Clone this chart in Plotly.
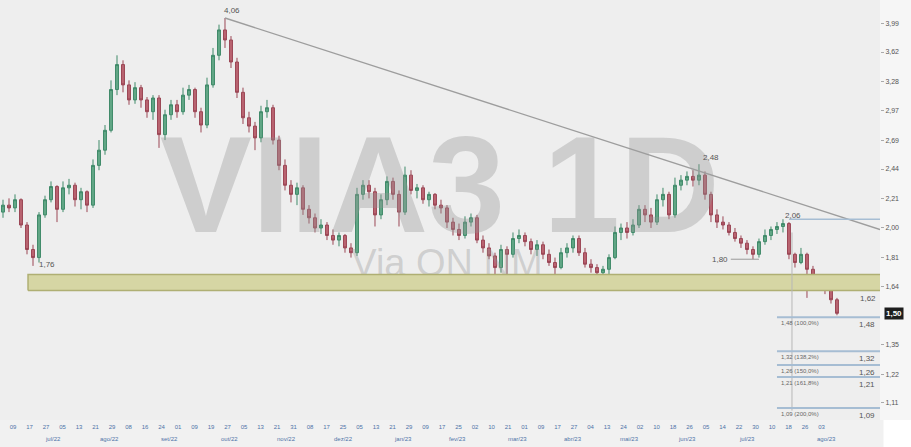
import math
import plotly.graph_objects as go

# ---------------- data ----------------
OPEN = [2.11, 2.16, 2.14, 2.20, 2.02, 1.86, 1.81, 2.09, 2.20, 2.30,
        2.13, 2.29, 2.31, 2.20, 2.26, 2.16, 2.47, 2.60, 2.78, 3.19,
        3.47, 3.24, 3.08, 3.21, 3.08, 2.96, 3.10, 2.74, 2.93, 3.03,
        2.96, 3.13, 3.19, 2.96, 2.83, 3.24, 3.58, 3.90, 3.77, 3.50,
        3.16, 2.90, 2.82, 2.71, 2.96, 3.00, 2.69, 2.47, 2.31, 2.24,
        2.29, 2.13, 2.07, 2.00, 2.02, 1.95, 1.92, 1.95, 1.87, 1.84,
        2.24, 2.31, 2.26, 2.09, 2.20, 2.34, 2.24, 2.11, 2.39, 2.27,
        2.29, 2.20, 2.24, 2.16, 2.14, 2.04, 1.99, 1.95, 2.04, 2.07,
        1.92, 1.87, 1.82, 1.75, 1.86, 1.83, 1.93, 1.95, 1.91, 1.86,
        1.89, 1.83, 1.78, 1.75, 1.84, 1.87, 1.93, 1.84, 1.77, 1.75,
        1.72, 1.74, 1.81, 1.97, 2.00, 1.97, 2.02, 2.13, 2.09, 2.04,
        2.20, 2.24, 2.09, 2.31, 2.35, 2.38, 2.35, 2.39, 2.24, 2.09,
        2.04, 2.02, 1.97, 1.93, 1.90, 1.86, 1.83, 1.91, 1.95, 1.99,
        2.01, 2.03, 1.83, 1.78, 1.83, 1.74, 1.69, 1.65, 1.62, 1.57]
HIGH = [2.20, 2.21, 2.24, 2.21, 2.04, 1.89, 2.11, 2.23, 2.34, 2.31,
        2.34, 2.36, 2.33, 2.29, 2.27, 2.52, 2.69, 2.83, 3.29, 3.58,
        3.52, 3.29, 3.27, 3.24, 3.11, 3.13, 3.13, 2.98, 3.08, 3.08,
        3.21, 3.24, 3.21, 3.00, 3.32, 3.67, 3.97, 4.06, 3.82, 3.55,
        3.21, 2.96, 2.86, 3.02, 3.08, 3.03, 2.73, 2.52, 2.35, 2.33,
        2.31, 2.16, 2.10, 2.06, 2.04, 1.99, 1.97, 1.96, 1.90, 2.29,
        2.35, 2.35, 2.29, 2.24, 2.38, 2.37, 2.27, 2.46, 2.43, 2.32,
        2.31, 2.26, 2.25, 2.20, 2.16, 2.07, 2.03, 2.08, 2.10, 2.09,
        1.95, 1.90, 1.84, 1.89, 1.88, 1.97, 1.99, 1.97, 1.93, 1.92,
        1.91, 1.86, 1.81, 1.87, 1.90, 1.95, 1.95, 1.87, 1.80, 1.77,
        1.76, 1.83, 2.01, 2.03, 2.04, 2.06, 2.16, 2.16, 2.14, 2.24,
        2.29, 2.26, 2.37, 2.39, 2.42, 2.43, 2.48, 2.42, 2.26, 2.13,
        2.08, 2.04, 2.00, 1.95, 1.92, 1.88, 1.93, 1.99, 2.01, 2.04,
        2.06, 2.04, 1.84, 1.87, 1.84, 1.76, 1.71, 1.68, 1.64, 1.58]
LOW = [2.07, 2.11, 2.11, 2.00, 1.83, 1.76, 1.78, 2.07, 2.18, 2.04,
       2.11, 2.24, 2.15, 2.13, 2.11, 2.14, 2.43, 2.56, 2.76, 3.13,
       3.16, 3.03, 3.04, 3.00, 2.90, 2.88, 2.62, 2.69, 2.88, 2.90,
       2.93, 3.08, 2.90, 2.76, 2.80, 3.21, 3.52, 3.67, 3.43, 3.10,
       2.84, 2.76, 2.60, 2.67, 2.90, 2.65, 2.43, 2.27, 2.18, 2.16,
       2.09, 2.03, 1.97, 1.96, 1.92, 1.89, 1.88, 1.84, 1.81, 1.82,
       2.20, 2.21, 2.01, 2.06, 2.16, 2.20, 2.01, 2.09, 2.24, 2.21,
       2.17, 2.15, 2.13, 2.10, 2.00, 1.95, 1.92, 1.93, 2.01, 1.90,
       1.84, 1.80, 1.70, 1.72, 1.66, 1.81, 1.90, 1.88, 1.83, 1.82,
       1.80, 1.76, 1.64, 1.74, 1.81, 1.84, 1.82, 1.75, 1.72, 1.70,
       1.69, 1.71, 1.80, 1.92, 1.93, 1.95, 2.00, 2.04, 2.00, 2.02,
       2.15, 2.06, 2.07, 2.27, 2.31, 2.30, 2.31, 2.20, 2.04, 2.00,
       1.99, 1.95, 1.91, 1.87, 1.83, 1.80, 1.81, 1.89, 1.92, 1.96,
       1.97, 1.80, 1.75, 1.77, 1.58, 1.66, 1.62, 1.60, 1.55, 1.49]
CLOSE = [2.16, 2.14, 2.20, 2.02, 1.86, 1.81, 2.09, 2.20, 2.30, 2.13,
         2.29, 2.31, 2.20, 2.26, 2.16, 2.47, 2.60, 2.78, 3.19, 3.47,
         3.24, 3.08, 3.21, 3.08, 2.96, 3.10, 2.74, 2.93, 3.03, 2.96,
         3.13, 3.19, 2.96, 2.83, 3.24, 3.58, 3.90, 3.77, 3.50, 3.16,
         2.90, 2.82, 2.71, 2.96, 3.00, 2.69, 2.47, 2.31, 2.24, 2.29,
         2.13, 2.07, 2.00, 2.02, 1.95, 1.92, 1.95, 1.87, 1.84, 2.24,
         2.31, 2.26, 2.09, 2.20, 2.34, 2.24, 2.11, 2.39, 2.27, 2.29,
         2.20, 2.24, 2.16, 2.14, 2.04, 1.99, 1.95, 2.04, 2.07, 1.92,
         1.87, 1.82, 1.75, 1.86, 1.83, 1.93, 1.95, 1.91, 1.86, 1.89,
         1.83, 1.78, 1.75, 1.84, 1.87, 1.93, 1.84, 1.77, 1.75, 1.72,
         1.74, 1.81, 1.97, 2.00, 1.97, 2.02, 2.13, 2.09, 2.04, 2.20,
         2.24, 2.09, 2.31, 2.35, 2.38, 2.35, 2.39, 2.24, 2.09, 2.04,
         2.02, 1.97, 1.93, 1.90, 1.86, 1.83, 1.91, 1.95, 1.99, 2.01,
         2.03, 1.83, 1.78, 1.83, 1.74, 1.69, 1.65, 1.62, 1.57, 1.50]

# swing labels: candle index, price
SWING_IDX = [37, 5, 116, 130, 125]
SWING_PRICE = [4.06, 1.76, 2.48, 2.06, 1.80]

# support zone and trend line
ZONE_LOW, ZONE_HIGH = 1.62, 1.71
TREND_START_IDX, TREND_START = 37, 4.06
TREND_END = 1.99

# Fibonacci projection levels
FIB_LEVELS = [1.48, 1.32, 1.26, 1.21, 1.09]
FIB_PCT = ["100,0%", "138,2%", "150,0%", "161,8%", "200,0%"]
FIB_TOP = 1.97

LAST_PRICE = 1.50

Y_TICKS = [3.99, 3.62, 3.28, 2.97, 2.69, 2.44, 2.21, 2.00, 1.81, 1.64, 1.35, 1.22, 1.11]

DAY_LABELS = ["09", "17", "27", "05", "13", "21", "29", "08", "16", "24",
              "01", "09", "19", "27", "05", "13", "21", "31", "08", "17",
              "25", "05", "13", "21", "29", "09", "17", "25", "02", "10",
              "21", "01", "09", "17", "27", "04", "13", "24", "02", "10",
              "18", "26", "05", "14", "22", "30", "10", "18", "26", "03"]
MONTH_LABELS = ["jul/22", "ago/22", "set/22", "out/22", "nov/22", "dez/22", "jan/23",
                "fev/23", "mar/23", "abr/23", "mai/23", "jun/23", "jul/23", "ago/23"]
MONTH_POS = [8.3, 17.8, 27.8, 37.8, 47.3, 56.7, 66.7, 75.7, 85.8, 95.0, 104.5, 114.0, 124.0, 137.3]


def fmt(v):
    return f"{v:.2f}".replace(".", ",")


X = list(range(len(CLOSE)))
X_MAX = 146.17
FONT = "Liberation Sans, Arial, sans-serif"

fig = go.Figure()

# watermark (drawn first so it stays behind)
fig.add_trace(go.Scatter(x=[72.8], y=[2.22], mode="text", text=["VIIA3 1D"],
                         textposition="middle center",
                         textfont=dict(size=138, color="rgba(150,150,150,0.36)", family=FONT, weight="bold"),
                         hoverinfo="skip"))
fig.add_trace(go.Scatter(x=[74], y=[1.755], mode="text", text=["Via ON NM"],
                         textposition="middle center",
                         textfont=dict(size=38, color="rgba(150,150,150,0.36)", family=FONT),
                         hoverinfo="skip"))

# support zone
fig.add_trace(go.Scatter(x=[4.17, X_MAX + 0.4, X_MAX + 0.4, 4.17, 4.17],
                         y=[ZONE_LOW, ZONE_LOW, ZONE_HIGH, ZONE_HIGH, ZONE_LOW],
                         mode="lines", fill="toself", fillcolor="rgb(214,214,164)",
                         line=dict(color="rgb(175,175,115)", width=1.5), hoverinfo="skip"))

# trend line
fig.add_trace(go.Scatter(x=[TREND_START_IDX, X_MAX], y=[TREND_START, TREND_END], mode="lines",
                         line=dict(color="#9d9d9d", width=1.4), hoverinfo="skip"))

# fib vertical guide
fig.add_trace(go.Scatter(x=[131.5, 131.5], y=[FIB_TOP, FIB_LEVELS[-1] - 0.01], mode="lines",
                         line=dict(color="#b8b8b8", width=1), hoverinfo="skip"))

# fib horizontal levels
for lv in FIB_LEVELS:
    fig.add_trace(go.Scatter(x=[129, X_MAX], y=[lv, lv], mode="lines",
                             line=dict(color="#a6bdd3", width=2), hoverinfo="skip"))

# swing helper lines
fig.add_trace(go.Scatter(x=[131, X_MAX], y=[SWING_PRICE[3], SWING_PRICE[3]], mode="lines",
                         line=dict(color="#a6bdd3", width=1.5), hoverinfo="skip"))
fig.add_trace(go.Scatter(x=[121.3, 126], y=[SWING_PRICE[4], SWING_PRICE[4]], mode="lines",
                         line=dict(color="#9a9a9a", width=1), hoverinfo="skip"))

# candles
fig.add_trace(go.Candlestick(x=X, open=OPEN, high=HIGH, low=LOW, close=CLOSE,
                             increasing=dict(line=dict(color="#3f8a69", width=1), fillcolor="#62a786"),
                             decreasing=dict(line=dict(color="#9b4655", width=1), fillcolor="#b96471"),
                             whiskerwidth=0, hoverinfo="skip"))


def ann(xv, price, text, **kw):
    d = dict(x=xv, y=math.log10(price), xref="x", yref="y", text=text, showarrow=False,
             font=dict(size=8, color="#555555", family=FONT))
    d.update(kw)
    fig.add_annotation(**d)


# swing labels
ann(SWING_IDX[0], SWING_PRICE[0], fmt(SWING_PRICE[0]), xanchor="left", yanchor="bottom", xshift=-3, yshift=1)
ann(SWING_IDX[1], SWING_PRICE[1], fmt(SWING_PRICE[1]), xanchor="left", yanchor="middle", xshift=4, yshift=1)
ann(SWING_IDX[2], SWING_PRICE[2], fmt(SWING_PRICE[2]), xanchor="left", yanchor="bottom", xshift=2, yshift=0)
ann(SWING_IDX[3], SWING_PRICE[3], fmt(SWING_PRICE[3]), xanchor="left", yanchor="bottom", xshift=0, yshift=-3)
ann(121.3, SWING_PRICE[4], fmt(SWING_PRICE[4]), xanchor="right", yanchor="middle", xshift=-1)
ann(X_MAX, ZONE_LOW, fmt(ZONE_LOW), xanchor="right", yanchor="top", xshift=-2, yshift=-2)

for lv, pct in zip(FIB_LEVELS, FIB_PCT):
    ann(129.3, lv, f"{fmt(lv)} ({pct})", xanchor="left", yanchor="top", yshift=-1,
        font=dict(size=6, color="#666666", family=FONT))
    ann(X_MAX, lv, fmt(lv), xanchor="right", yanchor="top", xshift=-3, yshift=-1,
        font=dict(size=8, color="#555555", family=FONT))

# last price box
fig.add_annotation(x=1.0, xref="paper", y=math.log10(LAST_PRICE), yref="y", text="<b>" + fmt(LAST_PRICE) + "</b>",
                   showarrow=False, xanchor="left", yanchor="middle", xshift=4,
                   bgcolor="#1e1e1e", font=dict(size=8, color="white", family=FONT), borderpad=1)

# month labels
for pos, lab in zip(MONTH_POS, MONTH_LABELS):
    fig.add_annotation(x=pos, xref="x", y=-0.045, yref="paper", text=lab, showarrow=False,
                       font=dict(size=6, color="#4f73a8", family=FONT), xanchor="center", yanchor="middle")

tick_pos = [1.67 + 2.75 * k for k in range(len(DAY_LABELS))]

# right strip and corner
fig.add_shape(type="rect", xref="paper", yref="paper", x0=1.0, x1=1.04, y0=0, y1=1,
              fillcolor="#f6f6f6", line=dict(width=0), layer="below")
fig.add_shape(type="rect", xref="paper", yref="paper", x0=1.004, x1=1.04, y0=-0.07, y1=0,
              fillcolor="#ffffff", line=dict(width=0), layer="below")

fig.update_layout(
    width=911, height=447,
    margin=dict(l=0, r=31, t=0, b=27),
    paper_bgcolor="#f1f1f1", plot_bgcolor="#eeeeee",
    showlegend=False,
    font=dict(family=FONT),
    xaxis=dict(range=[-0.5, X_MAX], showgrid=False, zeroline=False, showline=False,
               rangeslider=dict(visible=False), tickmode="array", tickvals=tick_pos, ticktext=DAY_LABELS,
               tickfont=dict(size=6, color="#4f73a8", family=FONT), ticks="", ticklabelstandoff=2),
    yaxis=dict(type="log", side="right", range=[math.log10(1.0467), math.log10(4.314)],
               showgrid=False, zeroline=False, showline=False,
               tickmode="array", tickvals=Y_TICKS, ticktext=[fmt(v) for v in Y_TICKS],
               tickfont=dict(size=7, color="#555555", family=FONT), ticks="outside", ticklen=3,
               tickcolor="#aaaaaa"),
)

fig.write_html("out.html", config={"displayModeBar": False},
               post_script="document.body.style.margin='0px';document.body.style.overflow='hidden';")
